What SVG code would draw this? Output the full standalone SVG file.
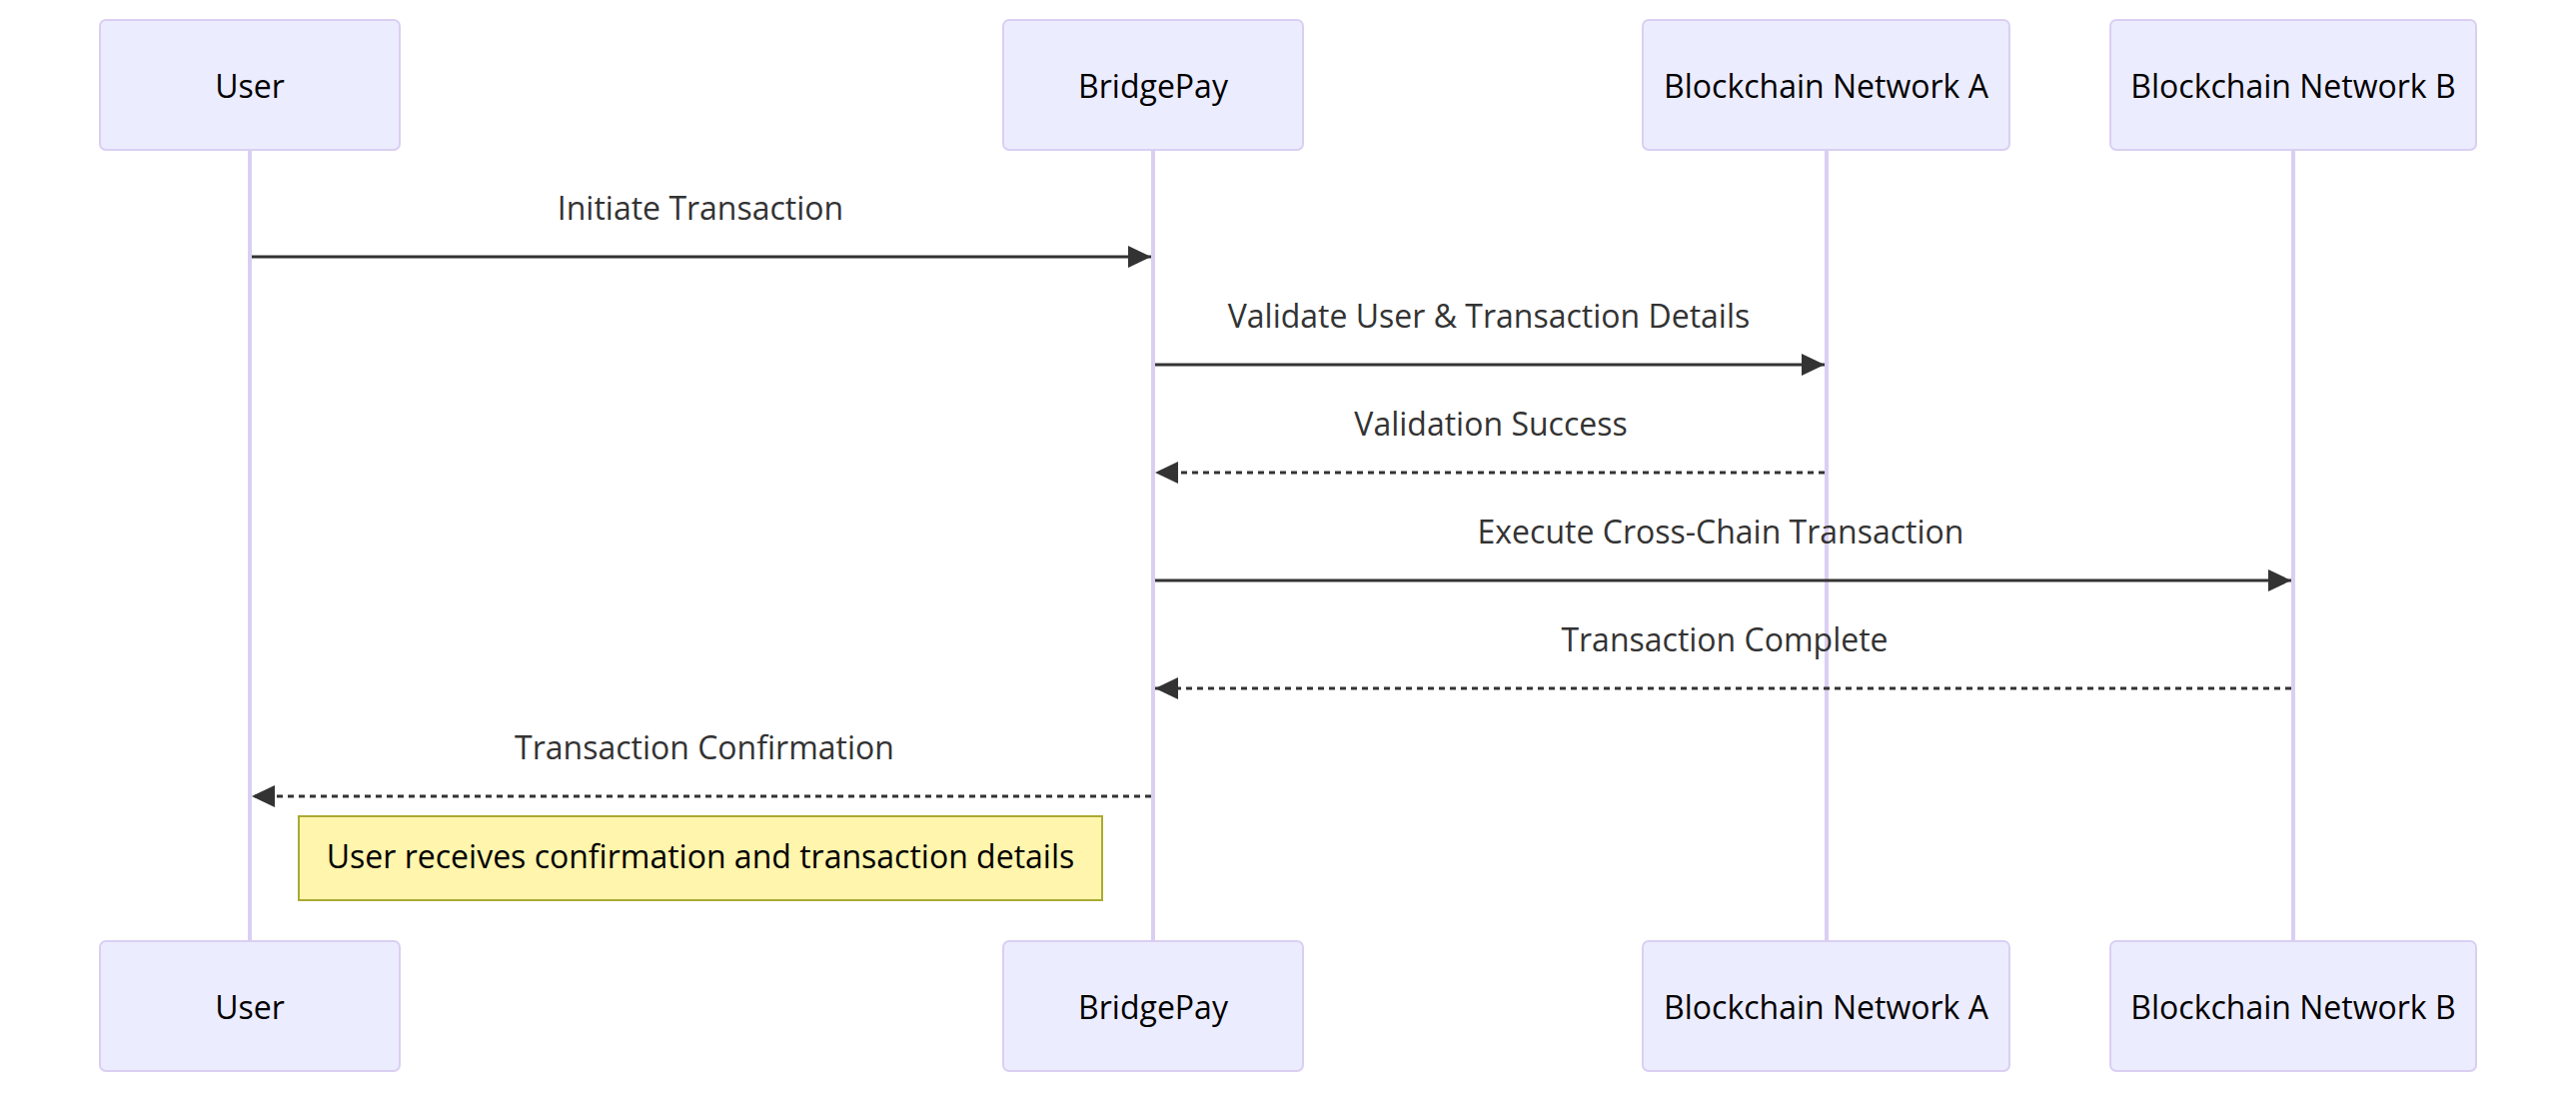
<svg xmlns="http://www.w3.org/2000/svg" width="2578" height="1094" viewBox="0 0 2578 1094">
<style>
.actor{fill:#ECECFF;stroke:#DACFF3;stroke-width:2}
.atext{font-family:"Open Sans","Noto Sans",sans-serif;font-size:32px;fill:#000;text-anchor:middle;dominant-baseline:central}
.life{stroke:#DACFF3;stroke-width:4}
.msg{stroke:#333;stroke-width:3;fill:none}
.dot{stroke-dasharray:6,5}
.mtext{font-family:"Open Sans","Noto Sans",sans-serif;font-size:32px;fill:#333;text-anchor:middle;dominant-baseline:central}
.note{fill:#FFF5AD;stroke:#AAAA33;stroke-width:2}
.ntext{font-family:"Open Sans","Noto Sans",sans-serif;font-size:32px;fill:#000;text-anchor:middle;dominant-baseline:central}
</style>
<defs>
<marker id="ah" markerUnits="userSpaceOnUse" markerWidth="24" markerHeight="24" refX="23" refY="11" orient="auto">
<path d="M0,0 L23,11 L0,22 z" fill="#333"/>
</marker>
</defs>
<rect width="2578" height="1094" fill="#fff"/>
<g id="lifelines">
<line class="life" x1="250" y1="150" x2="250" y2="942"/>
<line class="life" x1="1154" y1="150" x2="1154" y2="942"/>
<line class="life" x1="1828" y1="150" x2="1828" y2="942"/>
<line class="life" x1="2295" y1="150" x2="2295" y2="942"/>
</g>
<g id="user">
<rect class="actor" x="100" y="20" width="300" height="130" rx="6"/>
<text class="atext" x="250" y="85">User</text>
<rect class="actor" x="100" y="942" width="300" height="130" rx="6"/>
<text class="atext" x="250" y="1007">User</text>
</g>
<g id="bridgepay">
<rect class="actor" x="1004" y="20" width="300" height="130" rx="6"/>
<text class="atext" x="1154" y="85">BridgePay</text>
<rect class="actor" x="1004" y="942" width="300" height="130" rx="6"/>
<text class="atext" x="1154" y="1007">BridgePay</text>
</g>
<g id="networkA">
<rect class="actor" x="1644" y="20" width="367" height="130" rx="6"/>
<text class="atext" x="1827.5" y="85">Blockchain Network A</text>
<rect class="actor" x="1644" y="942" width="367" height="130" rx="6"/>
<text class="atext" x="1827.5" y="1007">Blockchain Network A</text>
</g>
<g id="networkB">
<rect class="actor" x="2112" y="20" width="366" height="130" rx="6"/>
<text class="atext" x="2295" y="85">Blockchain Network B</text>
<rect class="actor" x="2112" y="942" width="366" height="130" rx="6"/>
<text class="atext" x="2295" y="1007">Blockchain Network B</text>
</g>
<g id="connectors">
<line class="msg" x1="252" y1="257" x2="1152" y2="257" marker-end="url(#ah)"/>
<text class="mtext" x="701" y="207">Initiate Transaction</text>
<line class="msg" x1="1156" y1="365" x2="1826" y2="365" marker-end="url(#ah)"/>
<text class="mtext" x="1490" y="315">Validate User &amp; Transaction Details</text>
<line class="msg dot" x1="1826" y1="473" x2="1156" y2="473" marker-end="url(#ah)"/>
<text class="mtext" x="1492" y="423">Validation Success</text>
<line class="msg" x1="1156" y1="581" x2="2293" y2="581" marker-end="url(#ah)"/>
<text class="mtext" x="1722" y="531">Execute Cross-Chain Transaction</text>
<line class="msg dot" x1="2293" y1="689" x2="1156" y2="689" marker-end="url(#ah)"/>
<text class="mtext" x="1726" y="639">Transaction Complete</text>
<line class="msg dot" x1="1152" y1="797" x2="252" y2="797" marker-end="url(#ah)"/>
<text class="mtext" x="705" y="747">Transaction Confirmation</text>
</g>
<g id="note">
<rect class="note" x="299" y="817" width="804" height="84"/>
<text class="ntext" x="701" y="856">User receives confirmation and transaction details</text>
</g>
</svg>
